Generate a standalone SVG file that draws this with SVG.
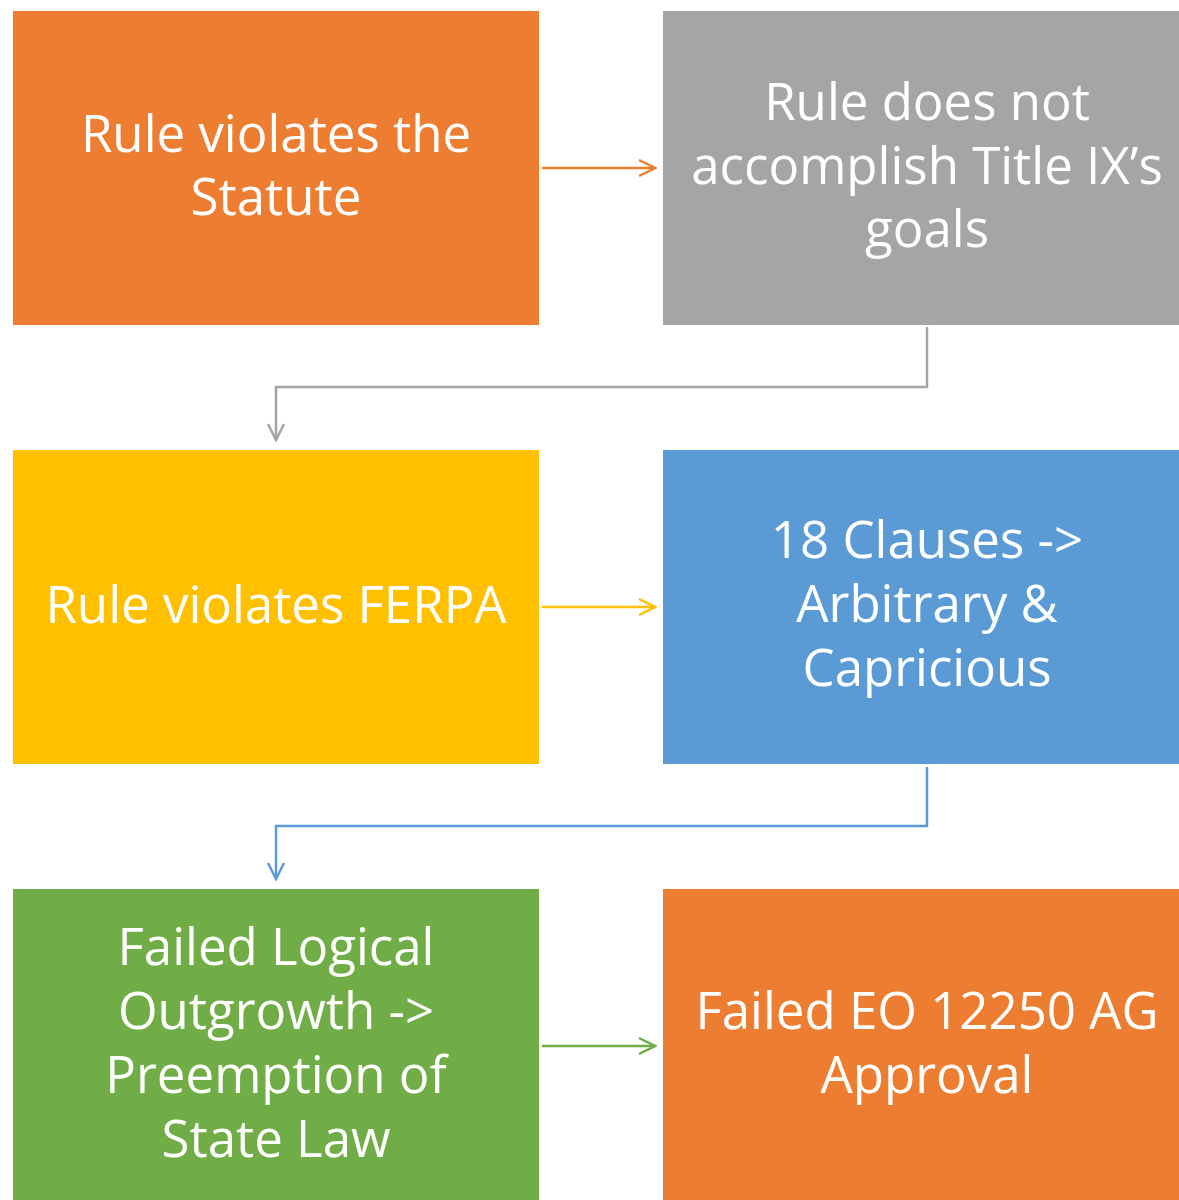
<svg xmlns="http://www.w3.org/2000/svg" width="1179" height="1200" viewBox="0 0 1179 1200">
<style>
text{font-family:"Open Sans","Noto Sans",sans-serif;font-size:51px;fill:#fff;text-anchor:middle}
.c{fill:none;stroke-width:2.5}
</style>
<defs>
<marker id="ao" markerWidth="20" markerHeight="20" refX="18" refY="10" orient="auto" markerUnits="userSpaceOnUse"><path d="M2,2 L18,10 L2,18" fill="none" stroke="#ED7D31" stroke-width="2.5"/></marker>
<marker id="ag" markerWidth="20" markerHeight="20" refX="18" refY="10" orient="auto" markerUnits="userSpaceOnUse"><path d="M2,2 L18,10 L2,18" fill="none" stroke="#A5A5A5" stroke-width="2.5"/></marker>
<marker id="ay" markerWidth="20" markerHeight="20" refX="18" refY="10" orient="auto" markerUnits="userSpaceOnUse"><path d="M2,2 L18,10 L2,18" fill="none" stroke="#FFC000" stroke-width="2.5"/></marker>
<marker id="ab" markerWidth="20" markerHeight="20" refX="18" refY="10" orient="auto" markerUnits="userSpaceOnUse"><path d="M2,2 L18,10 L2,18" fill="none" stroke="#5B9BD5" stroke-width="2.5"/></marker>
<marker id="agr" markerWidth="20" markerHeight="20" refX="18" refY="10" orient="auto" markerUnits="userSpaceOnUse"><path d="M2,2 L18,10 L2,18" fill="none" stroke="#70AD47" stroke-width="2.5"/></marker>
</defs>
<rect width="1179" height="1200" fill="#fff"/>
<g id="connectors">
<path class="c" stroke="#ED7D31" d="M542,168 H655" marker-end="url(#ao)"/>
<path class="c" stroke="#A5A5A5" d="M927,327 V387 H276 V440" marker-end="url(#ag)"/>
<path class="c" stroke="#FFC000" d="M542,607 H655" marker-end="url(#ay)"/>
<path class="c" stroke="#5B9BD5" d="M927,767 V826 H276 V879" marker-end="url(#ab)"/>
<path class="c" stroke="#70AD47" d="M542,1046 H655" marker-end="url(#agr)"/>
</g>
<g id="n1"><rect x="13" y="11" width="526" height="314" fill="#ED7D31"/><text x="276" y="152">Rule violates the</text><text x="276" y="215">Statute</text></g>
<g id="n2"><rect x="663" y="11" width="528" height="314" fill="#A5A5A5"/><text x="927" y="120">Rule does not</text><text x="927" y="184">accomplish Title IX’s</text><text x="927" y="247">goals</text></g>
<g id="n3"><rect x="13" y="450" width="526" height="314" fill="#FFC000"/><text x="276" y="623">Rule violates FERPA</text></g>
<g id="n4"><rect x="663" y="450" width="528" height="314" fill="#5B9BD5"/><text x="927" y="558">18 Clauses -&gt;</text><text x="927" y="622">Arbitrary &amp;</text><text x="927" y="686">Capricious</text></g>
<g id="n5"><rect x="13" y="889" width="526" height="320" fill="#70AD47"/><text x="276" y="965">Failed Logical</text><text x="276" y="1029">Outgrowth -&gt;</text><text x="276" y="1093">Preemption of</text><text x="276" y="1157">State Law</text></g>
<g id="n6"><rect x="663" y="889" width="528" height="320" fill="#ED7D31"/><text x="927" y="1029">Failed EO 12250 AG</text><text x="927" y="1093">Approval</text></g>
</svg>
